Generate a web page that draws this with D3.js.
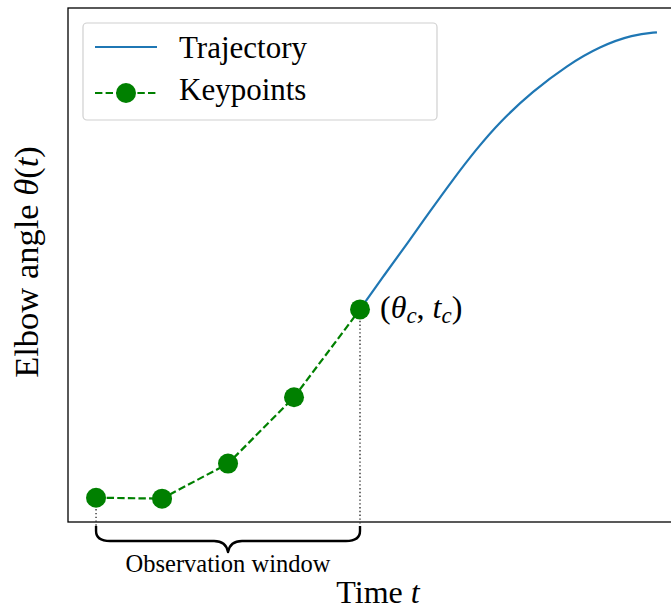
<!DOCTYPE html>
<html>
<head>
<meta charset="utf-8">
<script src="https://cdn.jsdelivr.net/npm/d3@7"></script>
<style>
  html, body { margin: 0; padding: 0; background: #fff; }
  svg { display: block; }
  text { font-family: "Liberation Serif", "Times New Roman", serif; fill: #000; }
</style>
</head>
<body>
<svg id="chart" width="671" height="610"></svg>
<script>
// ---- data (normalised angle units) ----
const keypointTimes  = [0, 1, 2, 3, 4];
const keypointAngles = [0.002, 0.0, 0.075, 0.217, 0.405];

const trajectoryTimes  = [4.0, 4.364, 4.727, 5.061, 5.409, 5.758, 6.121, 6.621, 7.136, 7.636, 8.136, 8.5];
const trajectoryAngles = [0.405, 0.478, 0.548, 0.615, 0.683, 0.747, 0.807, 0.872, 0.927, 0.968, 0.993, 0.998];

const legendLabels = ["Trajectory", "Keypoints"];
const windowLabel = "Observation window";

// ---- layout ----
const svg = d3.select("#chart");
const plot = { left: 68, top: 8, right: 685, bottom: 522 };

const tMin = 0, tMax = 8.5, aMin = 0, aMax = 1.0;
const tPad = (tMax - tMin) * 0.05, aPad = (aMax - aMin) * 0.05;

const x = d3.scaleLinear().domain([tMin - tPad, tMax + tPad]).range([plot.left, plot.right]);
const y = d3.scaleLinear().domain([aMin - aPad, aMax + aPad]).range([plot.bottom, plot.top]);

const blue = "#1f77b4", green = "#008000";

const kp = keypointTimes.map((t, i) => ({ t, a: keypointAngles[i] }));
const traj = trajectoryTimes.map((t, i) => ({ t, a: trajectoryAngles[i] }));

// axes frame (no ticks)
svg.append("rect")
  .attr("x", plot.left).attr("y", plot.top)
  .attr("width", plot.right - plot.left).attr("height", plot.bottom - plot.top)
  .attr("fill", "none").attr("stroke", "#000").attr("stroke-width", 1.3);

// dotted window markers
const first = kp[0], last = kp[kp.length - 1];
[first, last].forEach(d => {
  svg.append("line")
    .attr("x1", x(d.t)).attr("x2", x(d.t))
    .attr("y1", y(d.a)).attr("y2", 527)
    .attr("stroke", "#333").attr("stroke-width", 1.4)
    .attr("stroke-dasharray", "1.4,2.4");
});

// trajectory
const line = d3.line().x(d => x(d.t)).y(d => y(d.a)).curve(d3.curveBasis);
svg.append("path").datum(traj)
  .attr("d", line).attr("fill", "none")
  .attr("stroke", blue).attr("stroke-width", 2.2);

// keypoints dashed
svg.append("path").datum(kp)
  .attr("d", d3.line().x(d => x(d.t)).y(d => y(d.a)))
  .attr("fill", "none").attr("stroke", green).attr("stroke-width", 2.2)
  .attr("stroke-dasharray", "7.4,3.2");

svg.selectAll("circle.kp").data(kp).join("circle")
  .attr("class", "kp")
  .attr("cx", d => x(d.t)).attr("cy", d => y(d.a)).attr("r", 10)
  .attr("fill", green);

// annotation (θc, tc)
const ann = svg.append("text")
  .attr("x", x(last.t) + 20).attr("y", y(last.a) + 9)
  .attr("font-size", 32);
ann.append("tspan").text("(");
ann.append("tspan").attr("font-style", "italic").text("θ");
ann.append("tspan").attr("font-style", "italic").attr("font-size", 23).attr("dy", 5).text("c");
ann.append("tspan").attr("dy", -5).text(", ");
ann.append("tspan").attr("font-style", "italic").text("t");
ann.append("tspan").attr("font-style", "italic").attr("font-size", 23).attr("dy", 5).text("c");
ann.append("tspan").attr("dy", -5).text(")");

// brace below the axis
const x1 = x(first.t), x2 = x(last.t), xm = (x1 + x2) / 2;
const yTop = 526, yMid = 541, yTip = 552;
const brace = d3.path();
brace.moveTo(x1, yTop);
brace.lineTo(x1, yTop + 5);
brace.quadraticCurveTo(x1, yMid, x1 + 14, yMid);
brace.lineTo(xm - 14, yMid);
brace.quadraticCurveTo(xm - 2, yMid, xm, yTip);
brace.quadraticCurveTo(xm + 2, yMid, xm + 14, yMid);
brace.lineTo(x2 - 14, yMid);
brace.quadraticCurveTo(x2, yMid, x2, yTop + 5);
brace.lineTo(x2, yTop);
svg.append("path").attr("d", brace.toString())
  .attr("fill", "none").attr("stroke", "#000").attr("stroke-width", 2.4)
  .attr("stroke-linejoin", "round");

svg.append("text")
  .attr("x", xm).attr("y", 572)
  .attr("text-anchor", "middle").attr("font-size", 24.5)
  .text(windowLabel);

// axis labels
const xl = svg.append("text")
  .attr("x", 378).attr("y", 603)
  .attr("text-anchor", "middle").attr("font-size", 32);
xl.append("tspan").text("Time ");
xl.append("tspan").attr("font-style", "italic").text("t");

const yl = svg.append("text")
  .attr("transform", "translate(38,262) rotate(-90)")
  .attr("text-anchor", "middle").attr("font-size", 34.5);
yl.append("tspan").text("Elbow angle ");
yl.append("tspan").attr("font-style", "italic").text("θ");
yl.append("tspan").text("(");
yl.append("tspan").attr("font-style", "italic").text("t");
yl.append("tspan").text(")");

// legend
const lg = svg.append("g");
lg.append("rect")
  .attr("x", 83).attr("y", 23).attr("width", 354).attr("height", 97)
  .attr("rx", 4).attr("fill", "#fff").attr("fill-opacity", 0.8)
  .attr("stroke", "#d0d0d0").attr("stroke-width", 1.2);
lg.append("line")
  .attr("x1", 95).attr("x2", 157).attr("y1", 47).attr("y2", 47)
  .attr("stroke", blue).attr("stroke-width", 2.2);
lg.append("line")
  .attr("x1", 95).attr("x2", 157).attr("y1", 93).attr("y2", 93)
  .attr("stroke", green).attr("stroke-width", 2.2)
  .attr("stroke-dasharray", "7.4,3.2");
lg.append("circle").attr("cx", 126).attr("cy", 93).attr("r", 10).attr("fill", green);
lg.selectAll("text.lab").data(legendLabels).join("text")
  .attr("class", "lab")
  .attr("x", 179).attr("y", (d, i) => 58 + i * 42)
  .attr("font-size", 31)
  .text(d => d);
</script>
</body>
</html>
